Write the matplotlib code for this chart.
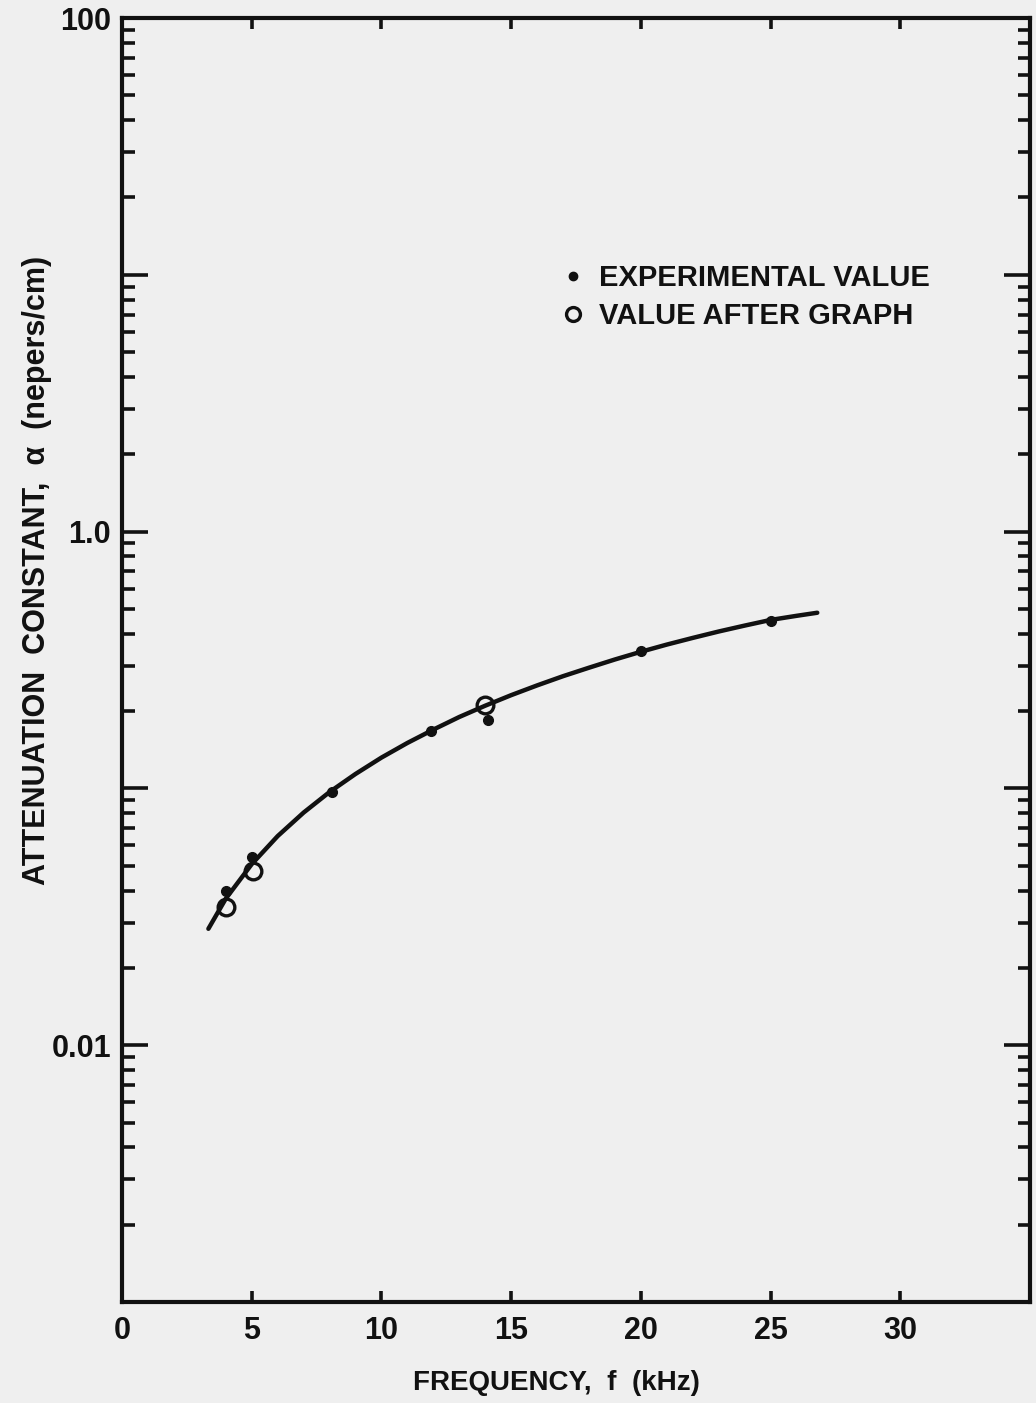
import numpy as np
import matplotlib
matplotlib.use("Agg")
import matplotlib.pyplot as plt
from matplotlib import font_manager
from matplotlib.lines import Line2D
from matplotlib.ticker import FixedLocator, FixedFormatter, LogLocator, NullFormatter

# narrowest lettering that is actually installed
have = {f.name for f in font_manager.fontManager.ttflist}
for fam in ['Liberation Sans Narrow', 'DejaVu Sans Condensed', 'Liberation Sans']:
    if fam in have:
        break
plt.rcParams['font.family'] = [fam, 'DejaVu Sans']
plt.rcParams['font.weight'] = 'bold'

# measured attenuation, nepers/cm
freq_exp = [4.0, 5.0, 8.1, 11.9, 14.1, 20.0, 25.0]
alpha_exp = [0.040, 0.054, 0.097, 0.168, 0.184, 0.342, 0.448]

# values read back from the graph
freq_graph = [4.0, 5.05, 14.0]
alpha_graph = [0.0345, 0.0476, 0.212]

# hand-drawn fit curve
curve_f = [3.33, 4, 5, 6, 7, 8, 9, 10, 11, 12, 13, 14, 15, 16, 17, 18, 19, 20,
           21, 22, 23, 24, 25, 26, 26.8]
curve_alpha = [0.0284, 0.0372, 0.0507, 0.0652, 0.0805, 0.0968, 0.1138, 0.1318,
               0.1503, 0.1694, 0.1897, 0.2099, 0.2307, 0.2518, 0.2735, 0.2951,
               0.3177, 0.3404, 0.3631, 0.3855, 0.4083, 0.4305, 0.4529, 0.4699, 0.4831]

xticks = [0, 5, 10, 15, 20, 25, 30]
xticklabels = ['0', '5', '10', '15', '20', '25', '30']
ydecades = [0.001, 0.01, 0.1, 1.0, 10, 100]
yticklabels = ['', '0.01', '', '1.0', '', '100']

ink = '#111111'
paper = '#efefef'

W, H = 1036, 1403
fig = plt.figure(figsize=(W / 100, H / 100), dpi=100, facecolor=paper)
ax = fig.add_axes([122 / W, 1 - 1302 / H, (1030 - 122) / W, (1302 - 18) / H], facecolor=paper)

ax.set_yscale('log')
ax.set_xlim(0, 35)
ax.set_ylim(0.001, 100)

ax.plot(curve_f, curve_alpha, color=ink, lw=3.2, solid_capstyle='round',
        solid_joinstyle='round', zorder=2)
ax.plot(freq_exp, alpha_exp, 'o', color=ink, ms=7, zorder=3)
ax.plot(freq_graph, alpha_graph, 'o', mfc='none', mec=ink, mew=2.4, ms=12, zorder=4)

for s in ax.spines.values():
    s.set_linewidth(3)
    s.set_color(ink)

ax.xaxis.set_major_locator(FixedLocator(xticks))
ax.xaxis.set_major_formatter(FixedFormatter(xticklabels))
ax.yaxis.set_major_locator(FixedLocator(ydecades))
ax.yaxis.set_major_formatter(FixedFormatter(yticklabels))
ax.yaxis.set_minor_locator(LogLocator(base=10, subs=np.arange(2, 10), numticks=20))
ax.yaxis.set_minor_formatter(NullFormatter())

ax.tick_params(axis='x', which='major', direction='in', length=8, width=2.6,
               top=True, bottom=True, labelsize=22, pad=10, colors=ink)
ax.tick_params(axis='y', which='major', direction='in', length=19, width=2.6,
               left=True, right=True, labelsize=22, pad=8, colors=ink)
ax.tick_params(axis='y', which='minor', direction='in', length=9, width=2.6,
               left=True, right=True, colors=ink)
for lab in ax.get_xticklabels() + ax.get_yticklabels():
    lab.set_fontweight('bold')

handles = [
    Line2D([], [], ls='none', marker='o', color=ink, ms=6),
    Line2D([], [], ls='none', marker='o', mfc='none', mec=ink, mew=2.4, ms=10),
]
leg = ax.legend(handles, ['EXPERIMENTAL VALUE', 'VALUE AFTER GRAPH'],
                loc='upper left', bbox_to_anchor=(561 / W, 1 - 264 / H),
                bbox_transform=fig.transFigure, frameon=False, fontsize=21,
                handlelength=0.8, handletextpad=0.5, labelspacing=0.35,
                borderpad=0, borderaxespad=0)
for t in leg.get_texts():
    t.set_color(ink)
    t.set_fontweight('bold')

fig.text(556 / W, 1 - 1383 / H, 'FREQUENCY,  f  (kHz)', ha='center', va='center',
         fontsize=20, fontweight='bold', color=ink)
fig.text(37 / W, 1 - 570 / H, 'ATTENUATION  CONSTANT,  α  (nepers/cm)', rotation=90,
         ha='center', va='center', fontsize=22, fontweight='bold', color=ink)

fig.savefig('out.png', dpi=100, facecolor=paper)
